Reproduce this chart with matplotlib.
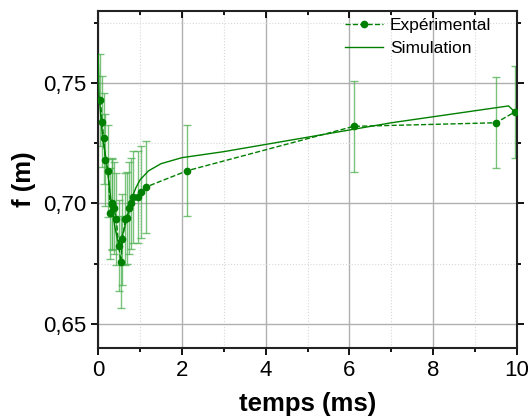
import matplotlib.pyplot as plt
from matplotlib.ticker import MultipleLocator, FuncFormatter

plt.rcParams['font.family'] = ['Liberation Sans', 'DejaVu Sans']

# experimental points (temps en ms, f en m)
t_exp = [0.05, 0.095, 0.13, 0.17, 0.24, 0.29, 0.32, 0.335, 0.38, 0.43, 0.49,
         0.54, 0.58, 0.65, 0.68, 0.73, 0.78, 0.84, 0.94, 1.03, 1.14, 2.13,
         6.1, 9.5, 9.95]
f_exp = [0.743, 0.734, 0.727, 0.718, 0.7134, 0.6958, 0.700, 0.6996, 0.698,
         0.6936, 0.6825, 0.6757, 0.6851, 0.6936, 0.694, 0.698, 0.700, 0.7026,
         0.7026, 0.7048, 0.7068, 0.7136, 0.732, 0.7335, 0.738]
f_err = [0.019] * len(t_exp)

# simulation
t_sim = [0, 0.02, 0.1, 0.2, 0.3, 0.4, 0.49, 0.6, 0.7, 0.8, 0.9, 1.0, 1.2,
         1.5, 2.0, 3, 4, 5, 6, 7, 8, 9, 9.8, 9.95]
f_sim = [0.762, 0.745, 0.728, 0.717, 0.702, 0.690, 0.6827, 0.688, 0.6945,
         0.702, 0.7065, 0.7098, 0.7135, 0.7165, 0.719, 0.7215, 0.7245, 0.7275,
         0.7305, 0.7335, 0.736, 0.7385, 0.7405, 0.738]

fig = plt.figure(figsize=(5.28, 4.18), dpi=100)
ax = fig.add_axes([0.186, 0.168, 0.793, 0.806])

ax.errorbar(t_exp, f_exp, yerr=f_err, fmt='none', ecolor='#4caf50',
            elinewidth=1, capsize=3, alpha=0.75, zorder=2)
ax.plot(t_exp, f_exp, '--o', color='#008000', lw=1, ms=4.5,
        label='Expérimental', zorder=3)
ax.plot(t_sim, f_sim, '-', color='#008000', lw=1, label='Simulation', zorder=3)

ax.set_xlim(0, 10)
ax.set_ylim(0.64, 0.78)
ax.xaxis.set_major_locator(MultipleLocator(2))
ax.xaxis.set_minor_locator(MultipleLocator(1))
ax.yaxis.set_major_locator(MultipleLocator(0.05))
ax.yaxis.set_minor_locator(MultipleLocator(0.025))
ax.yaxis.set_major_formatter(FuncFormatter(lambda v, p: f'{v:.2f}'.replace('.', ',')))

ax.grid(which='major', color='#b0b0b0', lw=1)
ax.grid(which='minor', color='#d8d8d8', lw=0.8, ls=':')
ax.set_axisbelow(True)

for s in ax.spines.values():
    s.set_linewidth(1.5)
    s.set_color('#222222')
ax.tick_params(which='both', labelsize=16, width=1.3, direction='out',
               top=True, right=True)
ax.tick_params(which='major', length=5)
ax.tick_params(which='minor', length=3)
# top and right ticks point inwards
for t in ax.xaxis.get_ticklines(minor=False)[1::2] + ax.xaxis.get_ticklines(minor=True)[1::2]:
    t.set_marker(3)
for t in ax.yaxis.get_ticklines(minor=False)[1::2] + ax.yaxis.get_ticklines(minor=True)[1::2]:
    t.set_marker(1)

ax.set_xlabel('temps (ms)', fontsize=18.5, fontweight='bold', labelpad=8)
ax.set_ylabel('f (m)', fontsize=18.5, fontweight='bold', labelpad=5)

ax.legend(loc='upper right', frameon=False, fontsize=12.5, handlelength=2.2,
          handletextpad=0.4, borderaxespad=0.0, labelspacing=0.45,
          bbox_to_anchor=(0.955, 1.0))

fig.savefig('out.png', dpi=100)
